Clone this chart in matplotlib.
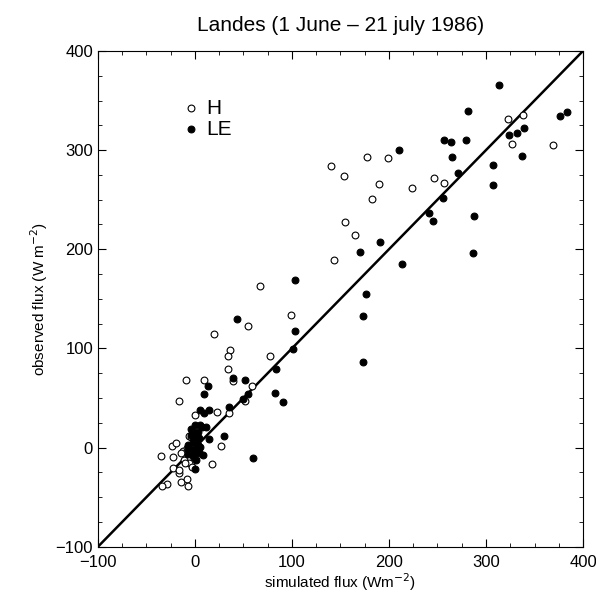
import numpy as np
import matplotlib.pyplot as plt

plt.rcParams['font.family'] = ['Liberation Sans', 'DejaVu Sans']

# H (open circles): simulated, observed
h_sim = [140.4, 153.4, 177.5, 198.8, 189.5, 182.3, 223.5, 246.6, 257.2, 322.5,
         338.4, 327.3, 369.3, 154.8, 165.2, 143.8, 67.2, 98.8, 54.4, 19.4,
         36.3, 34.2, 77.1, 34.2, -9.5, 8.8, 39.0, 59.0, 51.3, -16.3,
         0.5, 22.9, 34.8, 27.3, 17.7, -23.5, -19.8, -35.3, -22.2, -22.2,
         -16.7, -16.0, -14.2, -8.5, -7.0, -28.4, -33.5, -12.2, -11.1, -5.7,
         -4.6, -4.6, -5.7, -10.8, -14.2, -3.0, 2.5, -8.0]
h_obs = [284.2, 274.1, 293.2, 292.2, 265.3, 250.2, 261.6, 271.7, 267.3, 331.3,
         335.3, 306.4, 305.4, 227.6, 214.5, 189.3, 163.1, 133.5, 123.0, 114.9,
         98.2, 92.1, 92.1, 79.6, 67.9, 68.5, 67.5, 62.2, 47.3, 46.7,
         32.6, 35.6, 34.6, 1.6, -16.2, 1.3, 4.3, -8.2, -9.8, -20.3,
         -25.3, -22.9, -34.4, -31.4, -38.4, -36.7, -39.1, -3.7, -12.2, 11.7,
         -15.5, 11.1, -15.5, -15.8, -5.8, -20.0, -8.0, 0.0]

# LE (filled circles): simulated, observed
le_sim = [313.9, 281.9, 376.0, 383.3, 257.2, 264.4, 278.9, 210.8, 265.1, 323.5,
          331.8, 339.0, 337.3, 271.3, 306.7, 307.7, 255.2, 241.0, 245.2, 287.4,
          190.9, 169.9, 213.9, 286.8, 175.8, 173.0, 173.0, 102.6, 43.8, 102.6,
          100.8, 83.0, 38.7, 51.8, 13.2, 8.8, 54.4, 49.7, 82.7, 90.5,
          4.9, 9.8, 14.2, 35.3, 30.4, 14.2, 60.0, 0.5,
          -3.6, 0.5, 5.3, 7.4, 11.5, -3.9, 0.8, 4.6, -7.7, -5.7,
          -1.5, 2.0, 4.6, -3.6, -7.1, -0.2, 3.3, -2.2, -7.4, 5.6,
          8.0, -2.2, 1.2, -2.2, 3.0, -0.5]
le_obs = [365.6, 339.6, 334.3, 338.6, 310.4, 307.7, 310.4, 299.6, 292.7, 315.1,
          317.5, 322.5, 294.5, 276.4, 284.5, 264.7, 251.9, 236.7, 228.7, 233.7,
          207.5, 197.7, 185.6, 196.7, 155.3, 133.1, 86.1, 169.4, 129.8, 118.0,
          99.8, 79.0, 70.2, 68.5, 61.9, 53.8, 53.8, 49.0, 55.1, 46.0,
          37.6, 34.6, 37.9, 40.7, 11.7, 8.7, -10.2, -21.6,
          18.8, 22.8, 22.8, 20.4, 20.4, 12.4, 11.1, 9.4, 2.4, 1.1,
          -2.3, -5.6, -4.6, -3.3, -6.6, 4.4, 2.7, 7.8, -1.6, 0.4,
          -7.9, -9.0, -12.3, 16.1, 16.1, 6.1]

fig = plt.figure(figsize=(5.96, 5.93), dpi=100)
ax = fig.add_axes([0.1644, 0.0781, 0.8138, 0.836])

ax.plot([-100, 400], [-100, 400], color='black', lw=1.8, zorder=1)
ax.scatter(h_sim, h_obs, s=24, facecolors='white', edgecolors='black',
           linewidths=0.8, label='H', zorder=2)
ax.scatter(le_sim, le_obs, s=24, facecolors='black', edgecolors='black',
           linewidths=0.8, label='LE', zorder=3)

ax.set_xlim(-100, 400)
ax.set_ylim(-100, 400)
ax.set_xticks(np.arange(-100, 401, 100))
ax.set_yticks(np.arange(-100, 401, 100))
ax.set_xticks(np.arange(-100, 401, 25), minor=True)
ax.set_yticks(np.arange(-100, 401, 25), minor=True)
ax.tick_params(which='both', direction='in', top=True, right=True)
ax.tick_params(which='major', length=6, labelsize=12)
ax.tick_params(which='minor', length=3)
ax.tick_params(axis='x', which='major', pad=6)
ax.set_xticklabels(['\u2212100', '0', '100', '200', '300', '400'])
ax.set_yticklabels(['\u2212100', '0', '100', '200', '300', '400'])

ax.set_xlabel('simulated flux (Wm$^{-2}$)', fontsize=11, labelpad=1)
ax.set_ylabel('observed flux (W m$^{-2}$)', fontsize=11, labelpad=4)
ax.set_title('Landes (1 June \u2013 21 july 1986)', fontsize=15, pad=14)

ax.legend(loc='upper left', bbox_to_anchor=(0.145, 0.925), frameon=False,
          fontsize=15, handletextpad=0.1, labelspacing=0.1,
          borderpad=0, handlelength=1.2)

fig.savefig('out.png', dpi=100)
